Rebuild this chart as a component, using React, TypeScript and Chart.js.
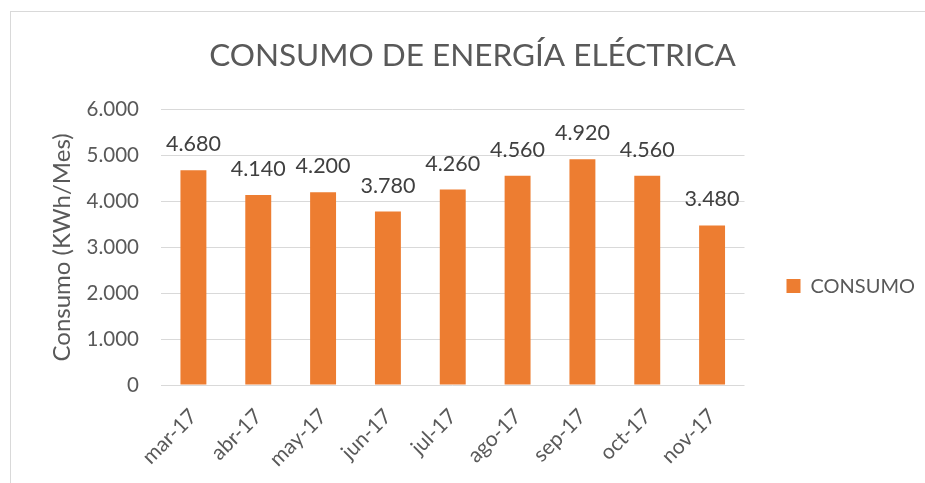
import React, { useEffect, useRef } from "react";
import { Chart, registerables } from "chart.js";

Chart.register(...registerables);

const categories = ["mar-17", "abr-17", "may-17", "jun-17", "jul-17", "ago-17", "sep-17", "oct-17", "nov-17"];
const consumo = [4680, 4140, 4200, 3780, 4260, 4560, 4920, 4560, 3480];
const yTicks = [0, 1000, 2000, 3000, 4000, 5000, 6000];
const seriesName = "CONSUMO";
const chartTitle = "CONSUMO DE ENERGÍA ELÉCTRICA";
const yAxisTitle = "Consumo (KWh/Mes)";

const FONT = "Lato, 'Open Sans', sans-serif";
const TEXT = "#595959";
const GRID = "#d9d9d9";
const BAR = "#ED7D31";

function fmt(v: number): string {
  const s = Math.round(v).toString();
  return s.replace(/\B(?=(\d{3})+(?!\d))/g, ".");
}

const dataLabels = {
  id: "dataLabels",
  afterDatasetsDraw(chart: any) {
    const ctx = chart.ctx;
    const meta = chart.getDatasetMeta(0);
    ctx.save();
    ctx.font = `21.5px ${FONT}`;
    ctx.fillStyle = "#404040";
    ctx.textAlign = "center";
    ctx.textBaseline = "alphabetic";
    meta.data.forEach((el: any, i: number) => {
      ctx.fillText(fmt(chart.data.datasets[0].data[i]), el.x, el.y - 19);
    });
    ctx.restore();
  },
};

export default function App() {
  const ref = useRef<HTMLCanvasElement | null>(null);
  useEffect(() => {
    if (!ref.current) return;
    const chart = new Chart(ref.current, {
      type: "bar",
      data: {
        labels: categories,
        datasets: [
          {
            label: seriesName,
            data: consumo,
            backgroundColor: BAR,
            borderWidth: 0,
            categoryPercentage: 1,
            barPercentage: 0.4,
          },
        ],
      },
      options: {
        responsive: false,
        animation: false,
        layout: { padding: { left: 20, right: 0, top: 0, bottom: 0 } },
        plugins: {
          title: {
            display: true,
            text: chartTitle,
            color: TEXT,
            font: { family: FONT, size: 31.5, weight: "normal" },
            padding: { top: 37, bottom: 35 },
          },
          legend: {
            display: true,
            position: "right",
            align: "center",
            title: { display: true, text: " ", font: { size: 1 }, padding: { top: 88, bottom: 0 } },
            labels: {
              boxWidth: 14,
              boxHeight: 14,
              padding: 42,
              color: TEXT,
              font: { family: FONT, size: 20 },
            },
          },
          tooltip: { enabled: false },
        },
        scales: {
          x: {
            grid: { display: false, drawTicks: false },
            border: { display: false },
            ticks: {
              color: TEXT,
              font: { family: FONT, size: 21 },
              maxRotation: 45,
              minRotation: 45,
              padding: 19,
            },
            afterFit: (s: any) => {
              s.height = 98;
            },
          },
          y: {
            min: 0,
            max: 6000,
            afterBuildTicks: (s: any) => {
              s.ticks = yTicks.map((v) => ({ value: v }));
            },
            grid: { color: GRID, lineWidth: 1, drawTicks: false },
            border: { display: false },
            ticks: {
              color: TEXT,
              font: { family: FONT, size: 20.5 },
              padding: 22,
              callback: (v: any) => fmt(Number(v)),
            },
            title: {
              display: true,
              text: yAxisTitle,
              color: TEXT,
              font: { family: FONT, size: 24, weight: "normal" },
              padding: { top: 28, bottom: 0 },
            },
            afterFit: (s: any) => {
              s.width = 141;
            },
          },
        },
      },
      plugins: [dataLabels],
    });
    return () => chart.destroy();
  }, []);

  return (
    <div style={{ position: "absolute", left: 0, top: 0, width: 925, height: 483, overflow: "hidden", background: "#fff" }}>
      <div
        style={{
          position: "absolute",
          left: 10,
          top: 11,
          width: 1000,
          height: 600,
          border: "1px solid #d9d9d9",
          boxSizing: "border-box",
        }}
      />
      <canvas ref={ref} width={925} height={483} style={{ position: "absolute", left: 0, top: 0 }} />
    </div>
  );
}
